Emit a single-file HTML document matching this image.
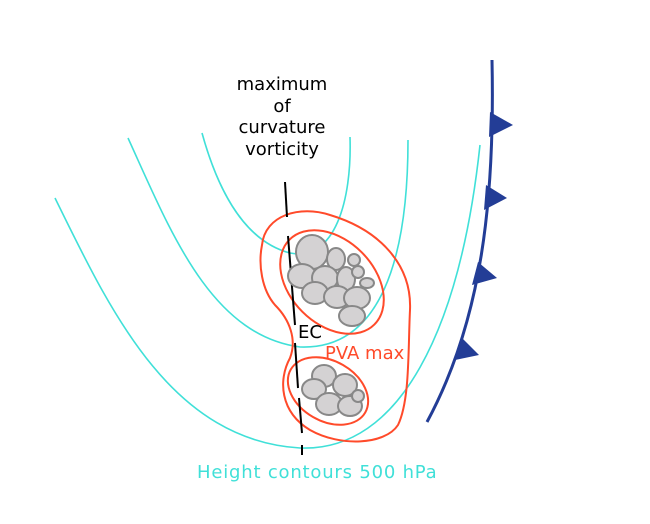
<!DOCTYPE html>
<html><head><style>body{margin:0;background:#fff}svg{display:block}</style></head><body>
<svg width="650" height="524" viewBox="0 0 650 524" xmlns="http://www.w3.org/2000/svg">
<g fill="none" stroke="#40e0d8" stroke-width="1.6">
<path d="M55,198 C110,310 170,440 300,448 C400,452 460,330 480,145"/>
<path d="M128,138 C170,230 210,335 300,347 C380,350 408,260 408,140"/>
<path d="M202,133 C215,180 240,240 290,253 C335,262 352,200 350,137"/>
</g>
<g stroke="#ff4a2a" stroke-width="2" fill="none">
<path d="M262,245 C265,215 300,205 330,215 C380,230 412,265 410,310 C408,350 410,400 398,425 C385,445 340,447 310,430 C280,412 278,380 290,358 C297,340 290,320 275,305 C262,290 258,265 262,245 Z"/>
<ellipse cx="332" cy="282" rx="60" ry="42" transform="rotate(45 332 282)"/>
<ellipse cx="328" cy="391" rx="43" ry="30" transform="rotate(30 328 391)"/>
</g>
<g stroke="#000" stroke-width="2">
<line x1="285" y1="182" x2="287" y2="217"/>
<line x1="288" y1="236" x2="295" y2="325"/>
<line x1="295" y1="343" x2="298" y2="388"/>
<line x1="299" y1="398" x2="302" y2="433"/>
<line x1="302" y1="445" x2="302" y2="455"/>
</g>
<g fill="#d4d2d3" stroke="#888" stroke-width="2">
<ellipse cx="312" cy="252" rx="16" ry="17"/>
<ellipse cx="336" cy="259" rx="9" ry="11"/>
<ellipse cx="354" cy="260" rx="6" ry="6"/>
<ellipse cx="302" cy="276" rx="14" ry="12"/>
<ellipse cx="325" cy="278" rx="13" ry="12"/>
<ellipse cx="346" cy="279" rx="9" ry="12"/>
<ellipse cx="358" cy="272" rx="6" ry="6"/>
<ellipse cx="367" cy="283" rx="7" ry="5"/>
<ellipse cx="315" cy="293" rx="13" ry="11"/>
<ellipse cx="337" cy="297" rx="13" ry="11"/>
<ellipse cx="357" cy="298" rx="13" ry="11"/>
<ellipse cx="352" cy="316" rx="13" ry="10"/>
<ellipse cx="324" cy="376" rx="12" ry="11"/>
<ellipse cx="345" cy="385" rx="12" ry="11"/>
<ellipse cx="314" cy="389" rx="12" ry="10"/>
<ellipse cx="329" cy="404" rx="13" ry="11"/>
<ellipse cx="350" cy="406" rx="12" ry="10"/>
<ellipse cx="358" cy="396" rx="6" ry="6"/>
</g>
<path d="M492,60 C495,200 482,320 427,422" fill="none" stroke="#233d96" stroke-width="3"/>
<g fill="#233d96">
<path d="M490,112 L513,125 L489,137 Z"/>
<path d="M486,185 L507,198 L484,210 Z"/>
<path d="M478,262 L497,278 L472,285 Z"/>
<path d="M461,337 L479,355 L455,360 Z"/>
</g>
<g font-family="DejaVu Sans, sans-serif" font-size="18" text-anchor="middle">
<text x="282" y="90">maximum</text>
<text x="282" y="112">of</text>
<text x="282" y="133">curvature</text>
<text x="282" y="155">vorticity</text>
</g>
<text x="298" y="338" font-family="DejaVu Sans, sans-serif" font-size="18">EC</text>
<text x="325" y="359" font-family="DejaVu Sans, sans-serif" font-size="18" fill="#ff4a2a">PVA max</text>
<text x="197" y="478" font-family="DejaVu Sans, sans-serif" font-size="18" fill="#40e0d8" letter-spacing="0.8">Height contours 500 hPa</text>
</svg>
</body></html>
